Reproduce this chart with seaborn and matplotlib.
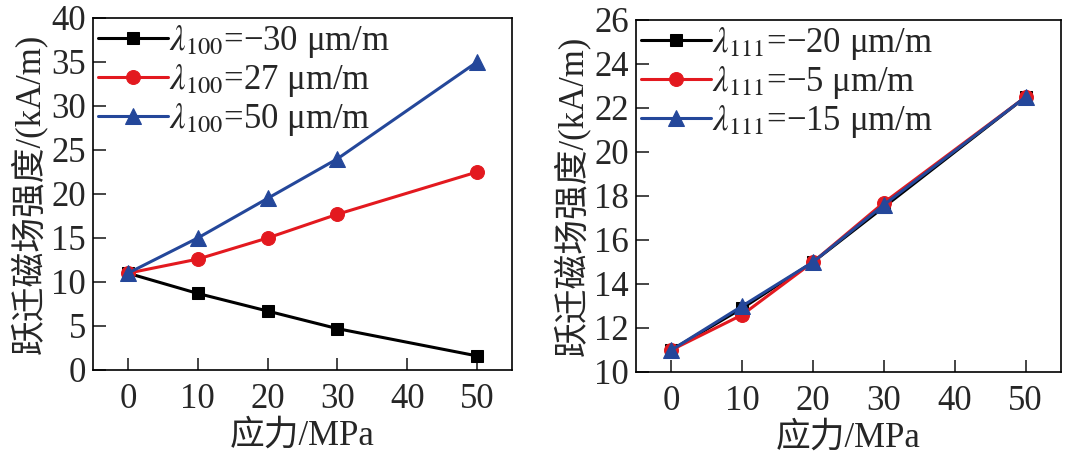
import numpy as np
import pandas as pd
import matplotlib
matplotlib.use("Agg")
import matplotlib.pyplot as plt
import seaborn as sns

# ── Data ─────────────────────────────────────────────
stress = [0, 10, 20, 30, 50]

left_labels = [r"$\lambda_{100}$=−30 μm/m", r"$\lambda_{100}$=27 μm/m", r"$\lambda_{100}$=50 μm/m"]
left_black = [11.0, 8.7, 6.7, 4.7, 1.6]
left_red   = [11.0, 12.6, 15.0, 17.7, 22.5]
left_blue  = [11.0, 15.0, 19.5, 24.0, 35.0]

right_labels = [r"$\lambda_{111}$=−20 μm/m", r"$\lambda_{111}$=−5 μm/m", r"$\lambda_{111}$=−15 μm/m"]
right_black = [11.0, 12.9, 15.0, 17.5, 22.5]
right_red   = [11.0, 12.6, 15.0, 17.7, 22.5]
right_blue  = [11.0, 13.0, 15.0, 17.6, 22.5]

xlabel = "应力/MPa"
ylabel = "跃迁磁场强度/(kA/m)"

colors  = ["#000000", "#e3191f", "#24479a"]
markers = ["s", "o", "^"]
msizes  = [9, 10, 11]

sns.set_theme(style="ticks")
plt.rcParams["font.family"] = ["Liberation Serif", "Noto Sans CJK SC"]
plt.rcParams["mathtext.fontset"] = "stix"
FS = 25


def draw(ax, series, labels, ylim, yticks):
    for vals, lab, c, m, ms in zip(series, labels, colors, markers, msizes):
        df = pd.DataFrame({"x": stress, "y": vals})
        sns.lineplot(data=df, x="x", y="y", ax=ax, color=c, marker=m,
                     markersize=ms, linewidth=2.2, markeredgecolor=c,
                     label=lab)
    ax.set_xlim(-5, 55)
    ax.set_ylim(*ylim)
    ax.set_xticks([0, 10, 20, 30, 40, 50])
    ax.set_yticks(yticks)
    ax.tick_params(direction="in", length=9, width=1.2, labelsize=FS,
                   top=False, right=False, pad=5)
    ax.tick_params(axis="x", pad=9)
    for s in ax.spines.values():
        s.set_linewidth(1.2)
        s.set_color("black")
    ax.set_xlabel(xlabel, fontsize=FS, labelpad=3)
    ax.set_ylabel(ylabel, fontsize=FS, labelpad=3)
    ax.legend(loc="upper left", frameon=False, fontsize=FS, handlelength=2.0,
              handletextpad=0.05, labelspacing=0.05, borderaxespad=0.05,
              borderpad=0.1)


fig = plt.figure(figsize=(10.71, 4.55), dpi=100)
ax1 = fig.add_axes([93 / 1071, 1 - 370 / 455, 419 / 1071, 352 / 455])
ax2 = fig.add_axes([636 / 1071, 1 - 372 / 455, 425 / 1071, 352 / 455])

draw(ax1, [left_black, left_red, left_blue], left_labels, (0, 40), range(0, 41, 5))
draw(ax2, [right_black, right_red, right_blue], right_labels, (10, 26), range(10, 27, 2))

plt.savefig("out.png", dpi=100)
plt.close()
